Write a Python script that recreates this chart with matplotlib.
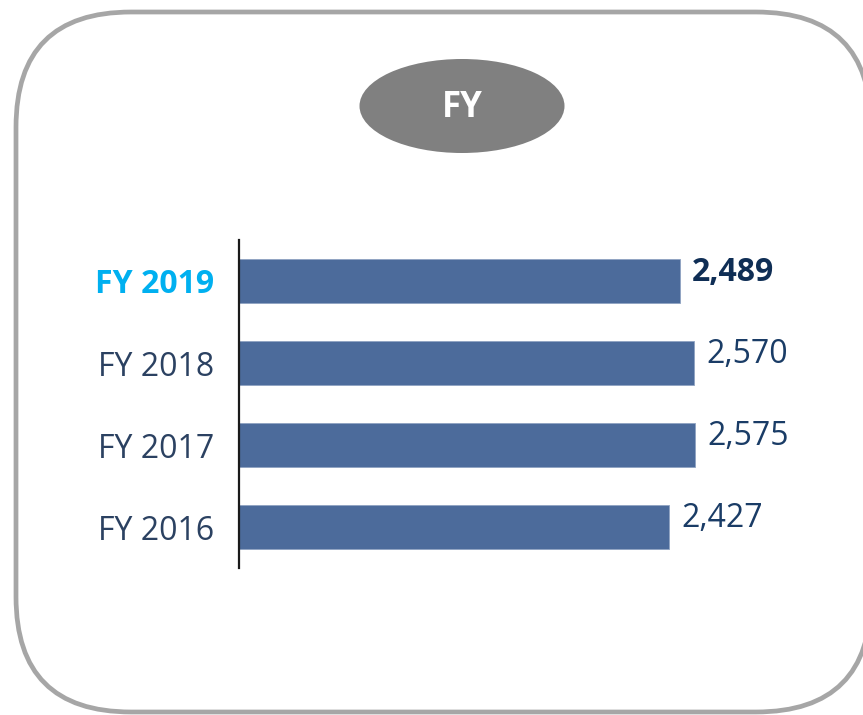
import matplotlib

matplotlib.use("Agg")
import matplotlib.pyplot as plt
from matplotlib.patches import FancyBboxPatch, Ellipse

plt.rcParams["font.family"] = ["Open Sans", "DejaVu Sans"]

# data
years = ["FY 2016", "FY 2017", "FY 2018", "FY 2019"]
values = [2427, 2575, 2570, 2489]
value_labels = ["2,427", "2,575", "2,570", "2,489"]

BAR_C = "#4C6B9B"
LABEL_C = "#2B4161"
VALUE_C = "#1A3C66"
HILITE = "#00B0F0"
FRAME = "#A6A6A6"

W, H = 863, 715
fig = plt.figure(figsize=(W / 100, H / 100), dpi=100)

# background layer in pixel coordinates (y downwards)
bg = fig.add_axes([0, 0, 1, 1])
bg.set_xlim(0, W)
bg.set_ylim(H, 0)
bg.axis("off")
bg.add_patch(FancyBboxPatch((16, 12), 855, 700,
                            boxstyle="round,pad=0,rounding_size=115",
                            fc="white", ec=FRAME, lw=3.4))
bg.add_patch(Ellipse((462, 106), 205, 94, fc="#808080", ec="none"))
bg.text(462, 108, "FY", ha="center", va="center", color="white",
        fontsize=25, fontweight="bold")

# bar chart
ax = fig.add_axes([239 / W, 147 / H, 531 / W, 328 / H])
ax.patch.set_alpha(0)
pos = range(len(years))
ax.barh(pos, values, height=0.53, color=BAR_C, edgecolor="#8FA3C2", lw=0.6)
ax.set_xlim(0, 3000)
ax.set_ylim(-0.5, len(years) - 0.5)
ax.set_xticks([])
ax.set_yticks(list(pos))
ax.set_yticklabels(years, fontsize=23)
ax.tick_params(axis="y", length=0, pad=18)
for i, t in enumerate(ax.get_yticklabels()):
    if i == len(years) - 1:
        t.set_color(HILITE)
        t.set_fontweight("bold")
    else:
        t.set_color(LABEL_C)
for s in ["top", "right", "bottom"]:
    ax.spines[s].set_visible(False)
ax.spines["left"].set_color("#1a1a1a")
ax.spines["left"].set_linewidth(1.6)

for i, (v, lab) in enumerate(zip(values, value_labels)):
    last = i == len(years) - 1
    ax.text(v + 70, i + 0.1, lab, ha="left", va="center", fontsize=23,
            color="#0F2E55" if last else VALUE_C,
            fontweight="bold" if last else "normal")

fig.savefig("out.png", dpi=100)
